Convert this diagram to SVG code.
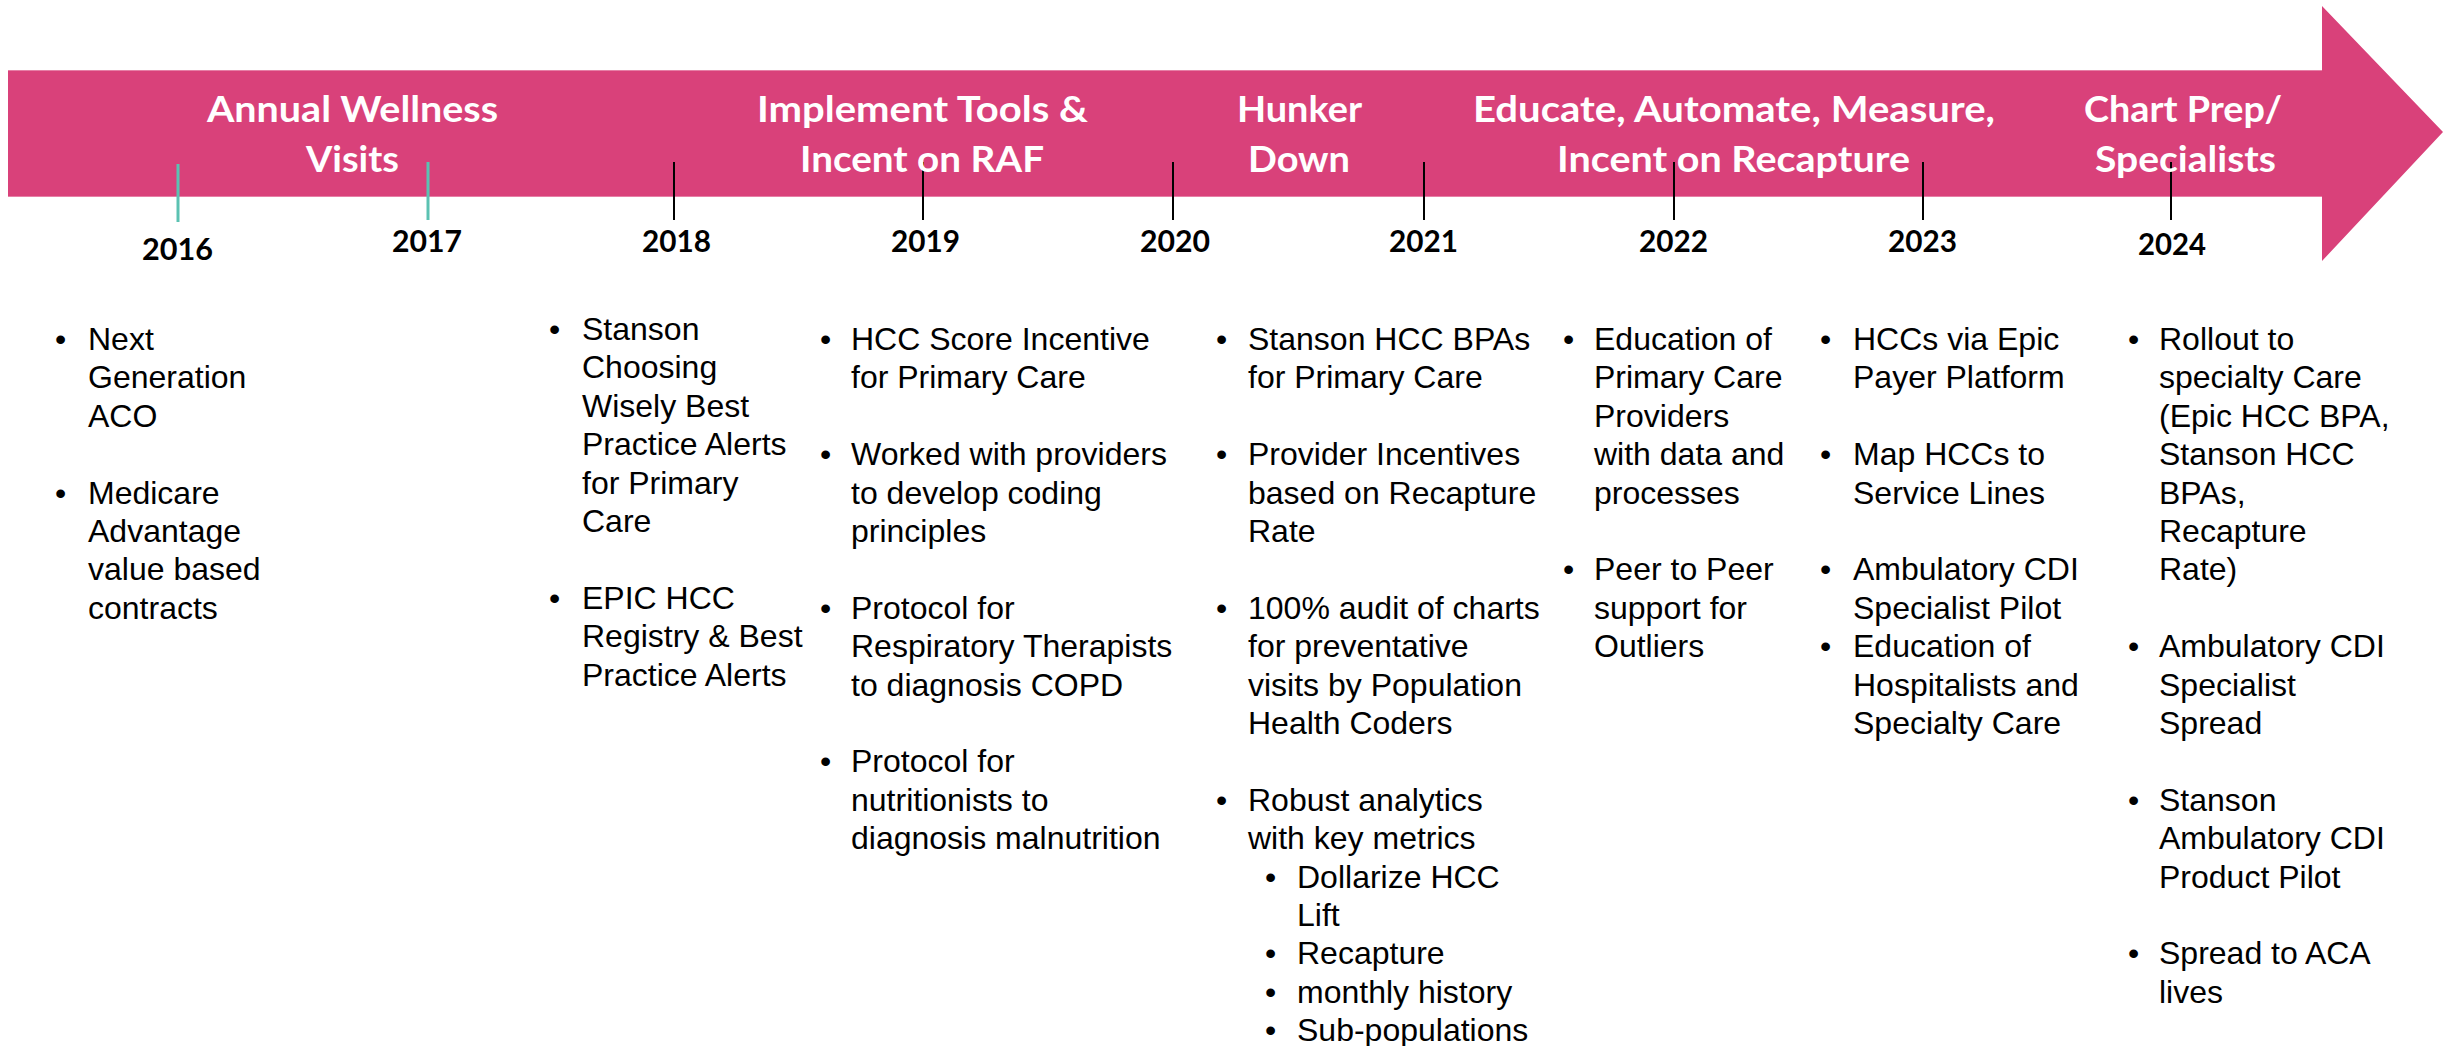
<svg xmlns="http://www.w3.org/2000/svg" width="2443" height="1046" viewBox="0 0 2443 1046">
<style>
.title{font-family:Lato,"Open Sans",sans-serif;font-weight:700;font-size:37px;fill:#ffffff}
.year{font-family:Lato,"Open Sans",sans-serif;font-weight:700;font-size:31px;fill:#000000}
.b{font-family:"Liberation Sans",Arial,sans-serif;font-size:32px;fill:#000000}
.tick{stroke:#000000;stroke-width:2}
.tickt{stroke:#5BC2B2;stroke-width:3}
.edge{stroke:#E67FA6;stroke-width:1.2}
</style>
<rect width="2443" height="1046" fill="#ffffff"/>
<g id="arrow">
<polygon points="8,70 2322,70 2322,6 2443,132 2322,261 2322,197 8,197" fill="#D9417A"/>
<line class="edge" x1="8" y1="70.5" x2="2322" y2="70.5"/>
<line class="edge" x1="8" y1="196.5" x2="2322" y2="196.5"/>
</g>
<g id="connectors">
<line class="tickt" x1="178" y1="164" x2="178" y2="222"/>
<line class="tickt" x1="428" y1="162" x2="428" y2="220"/>
<line class="tick" x1="674" y1="162" x2="674" y2="220"/>
<line class="tick" x1="923" y1="162" x2="923" y2="220"/>
<line class="tick" x1="1173" y1="162" x2="1173" y2="220"/>
<line class="tick" x1="1424" y1="162" x2="1424" y2="220"/>
<line class="tick" x1="1674" y1="162" x2="1674" y2="220"/>
<line class="tick" x1="1923" y1="162" x2="1923" y2="220"/>
<line class="tick" x1="2171" y1="162" x2="2171" y2="220"/>
</g>
<g id="phases">
<g id="phase-awv">
<text class="title" x="207" y="122" textLength="291" lengthAdjust="spacingAndGlyphs">Annual Wellness</text>
<text class="title" x="306" y="172" textLength="93" lengthAdjust="spacingAndGlyphs">Visits</text>
</g>
<g id="phase-tools">
<text class="title" x="757" y="122" textLength="331" lengthAdjust="spacingAndGlyphs">Implement Tools &amp;</text>
<text class="title" x="800" y="172" textLength="244" lengthAdjust="spacingAndGlyphs">Incent on RAF</text>
</g>
<g id="phase-hunker">
<text class="title" x="1237" y="122" textLength="125" lengthAdjust="spacingAndGlyphs">Hunker</text>
<text class="title" x="1248" y="172" textLength="102" lengthAdjust="spacingAndGlyphs">Down</text>
</g>
<g id="phase-educate">
<text class="title" x="1473" y="122" textLength="522" lengthAdjust="spacingAndGlyphs">Educate, Automate, Measure,</text>
<text class="title" x="1557" y="172" textLength="353" lengthAdjust="spacingAndGlyphs">Incent on Recapture</text>
</g>
<g id="phase-chart">
<text class="title" x="2084" y="122" textLength="198" lengthAdjust="spacingAndGlyphs">Chart Prep/</text>
<text class="title" x="2095" y="172" textLength="181" lengthAdjust="spacingAndGlyphs">Specialists</text>
</g>
</g>
<g id="years">
<text class="year" x="142" y="260" textLength="71" lengthAdjust="spacingAndGlyphs">2016</text>
<text class="year" x="392" y="252" textLength="70" lengthAdjust="spacingAndGlyphs">2017</text>
<text class="year" x="642" y="252" textLength="69" lengthAdjust="spacingAndGlyphs">2018</text>
<text class="year" x="891" y="252" textLength="69" lengthAdjust="spacingAndGlyphs">2019</text>
<text class="year" x="1140" y="252" textLength="70" lengthAdjust="spacingAndGlyphs">2020</text>
<text class="year" x="1389" y="252" textLength="69" lengthAdjust="spacingAndGlyphs">2021</text>
<text class="year" x="1639" y="252" textLength="69" lengthAdjust="spacingAndGlyphs">2022</text>
<text class="year" x="1888" y="252" textLength="69" lengthAdjust="spacingAndGlyphs">2023</text>
<text class="year" x="2138" y="255" textLength="68" lengthAdjust="spacingAndGlyphs">2024</text>
</g>
<g id="col-2016">
<text class="b" x="55" y="350">•</text>
<text class="b" x="88" y="350">Next</text>
<text class="b" x="88" y="388.4">Generation</text>
<text class="b" x="88" y="426.8">ACO</text>
<text class="b" x="55" y="503.6">•</text>
<text class="b" x="88" y="503.6">Medicare</text>
<text class="b" x="88" y="542">Advantage</text>
<text class="b" x="88" y="580.4">value based</text>
<text class="b" x="88" y="618.8">contracts</text>
</g>
<g id="col-2018">
<text class="b" x="549" y="340">•</text>
<text class="b" x="582" y="340">Stanson</text>
<text class="b" x="582" y="378.4">Choosing</text>
<text class="b" x="582" y="416.8">Wisely Best</text>
<text class="b" x="582" y="455.2">Practice Alerts</text>
<text class="b" x="582" y="493.6">for Primary</text>
<text class="b" x="582" y="532">Care</text>
<text class="b" x="549" y="608.8">•</text>
<text class="b" x="582" y="608.8">EPIC HCC</text>
<text class="b" x="582" y="647.2">Registry &amp; Best</text>
<text class="b" x="582" y="685.6">Practice Alerts</text>
</g>
<g id="col-2019">
<text class="b" x="820" y="350">•</text>
<text class="b" x="851" y="350">HCC Score Incentive</text>
<text class="b" x="851" y="388.4">for Primary Care</text>
<text class="b" x="820" y="465.2">•</text>
<text class="b" x="851" y="465.2">Worked with providers</text>
<text class="b" x="851" y="503.6">to develop coding</text>
<text class="b" x="851" y="542">principles</text>
<text class="b" x="820" y="618.8">•</text>
<text class="b" x="851" y="618.8">Protocol for</text>
<text class="b" x="851" y="657.2">Respiratory Therapists</text>
<text class="b" x="851" y="695.6">to diagnosis COPD</text>
<text class="b" x="820" y="772.4">•</text>
<text class="b" x="851" y="772.4">Protocol for</text>
<text class="b" x="851" y="810.8">nutritionists to</text>
<text class="b" x="851" y="849.2">diagnosis malnutrition</text>
</g>
<g id="col-2020">
<text class="b" x="1216" y="350">•</text>
<text class="b" x="1248" y="350">Stanson HCC BPAs</text>
<text class="b" x="1248" y="388.4">for Primary Care</text>
<text class="b" x="1216" y="465.2">•</text>
<text class="b" x="1248" y="465.2">Provider Incentives</text>
<text class="b" x="1248" y="503.6">based on Recapture</text>
<text class="b" x="1248" y="542">Rate</text>
<text class="b" x="1216" y="618.8">•</text>
<text class="b" x="1248" y="618.8">100% audit of charts</text>
<text class="b" x="1248" y="657.2">for preventative</text>
<text class="b" x="1248" y="695.6">visits by Population</text>
<text class="b" x="1248" y="734">Health Coders</text>
<text class="b" x="1216" y="810.8">•</text>
<text class="b" x="1248" y="810.8">Robust analytics</text>
<text class="b" x="1248" y="849.2">with key metrics</text>
<text class="b" x="1265" y="887.6">•</text>
<text class="b" x="1297" y="887.6">Dollarize HCC</text>
<text class="b" x="1297" y="926">Lift</text>
<text class="b" x="1265" y="964.4">•</text>
<text class="b" x="1297" y="964.4">Recapture</text>
<text class="b" x="1265" y="1002.8">•</text>
<text class="b" x="1297" y="1002.8">monthly history</text>
<text class="b" x="1265" y="1041.2">•</text>
<text class="b" x="1297" y="1041.2">Sub-populations</text>
</g>
<g id="col-2022">
<text class="b" x="1563" y="350">•</text>
<text class="b" x="1594" y="350">Education of</text>
<text class="b" x="1594" y="388.4">Primary Care</text>
<text class="b" x="1594" y="426.8">Providers</text>
<text class="b" x="1594" y="465.2">with data and</text>
<text class="b" x="1594" y="503.6">processes</text>
<text class="b" x="1563" y="580.4">•</text>
<text class="b" x="1594" y="580.4">Peer to Peer</text>
<text class="b" x="1594" y="618.8">support for</text>
<text class="b" x="1594" y="657.2">Outliers</text>
</g>
<g id="col-2023">
<text class="b" x="1820" y="350">•</text>
<text class="b" x="1853" y="350">HCCs via Epic</text>
<text class="b" x="1853" y="388.4">Payer Platform</text>
<text class="b" x="1820" y="465.2">•</text>
<text class="b" x="1853" y="465.2">Map HCCs to</text>
<text class="b" x="1853" y="503.6">Service Lines</text>
<text class="b" x="1820" y="580.4">•</text>
<text class="b" x="1853" y="580.4">Ambulatory CDI</text>
<text class="b" x="1853" y="618.8">Specialist Pilot</text>
<text class="b" x="1820" y="657.2">•</text>
<text class="b" x="1853" y="657.2">Education of</text>
<text class="b" x="1853" y="695.6">Hospitalists and</text>
<text class="b" x="1853" y="734">Specialty Care</text>
</g>
<g id="col-2024">
<text class="b" x="2128" y="350">•</text>
<text class="b" x="2159" y="350">Rollout to</text>
<text class="b" x="2159" y="388.4">specialty Care</text>
<text class="b" x="2159" y="426.8">(Epic HCC BPA,</text>
<text class="b" x="2159" y="465.2">Stanson HCC</text>
<text class="b" x="2159" y="503.6">BPAs,</text>
<text class="b" x="2159" y="542">Recapture</text>
<text class="b" x="2159" y="580.4">Rate)</text>
<text class="b" x="2128" y="657.2">•</text>
<text class="b" x="2159" y="657.2">Ambulatory CDI</text>
<text class="b" x="2159" y="695.6">Specialist</text>
<text class="b" x="2159" y="734">Spread</text>
<text class="b" x="2128" y="810.8">•</text>
<text class="b" x="2159" y="810.8">Stanson</text>
<text class="b" x="2159" y="849.2">Ambulatory CDI</text>
<text class="b" x="2159" y="887.6">Product Pilot</text>
<text class="b" x="2128" y="964.4">•</text>
<text class="b" x="2159" y="964.4">Spread to ACA</text>
<text class="b" x="2159" y="1002.8">lives</text>
</g>
</svg>
